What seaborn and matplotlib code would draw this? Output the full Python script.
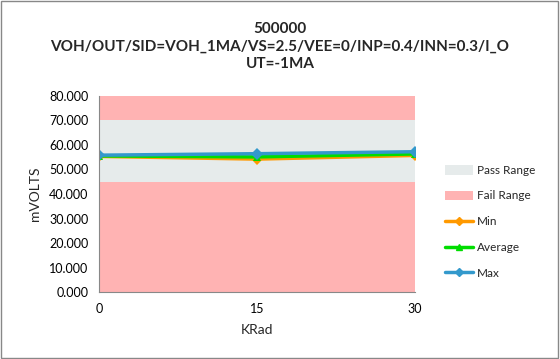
import matplotlib
matplotlib.use("Agg")
import matplotlib.pyplot as plt
from matplotlib.patches import Patch, Rectangle
from matplotlib.lines import Line2D
import seaborn as sns
import pandas as pd

sns.set_style("white")
plt.rcParams['font.family'] = ['Lato', 'DejaVu Sans']

krad = [0, 15, 30]
min_vals = [55.3, 54.2, 55.7]
avg_vals = [55.5, 55.1, 56.3]
max_vals = [55.8, 56.4, 57.2]
pass_range = (45.0, 70.0)
fail_range = (0.0, 80.0)
yticks = [0, 10, 20, 30, 40, 50, 60, 70, 80]

title = "500000\nVOH/OUT/SID=VOH_1MA/VS=2.5/VEE=0/INP=0.4/INN=0.3/I_O\nUT=-1MA"

df = pd.DataFrame({
    "KRad": krad * 3,
    "value": min_vals + avg_vals + max_vals,
    "series": ["Min"] * 3 + ["Average"] * 3 + ["Max"] * 3,
})

colors = {"Min": "#FF9900", "Average": "#00DD00", "Max": "#3399CC"}
markers = {"Min": "D", "Average": "^", "Max": "D"}

fig = plt.figure(figsize=(5.6, 3.59), dpi=100)
ax = fig.add_axes([99 / 560, 1 - 292.3 / 359, (415 - 99) / 560, (292.3 - 95.7) / 359])

# limit bands
ax.axhspan(fail_range[0], fail_range[1], color="#FFB3B3", zorder=0, lw=0)
ax.axhspan(pass_range[0], pass_range[1], color="#E6EBEB", zorder=1, lw=0)

sns.lineplot(data=df, x="KRad", y="value", hue="series", style="series",
             palette=colors, markers=markers, dashes=False, linewidth=2.5,
             markersize=6, markeredgewidth=0, ax=ax, legend=False, zorder=3)

ax.set_xlim(0, 30)
ax.set_ylim(0, 80)
ax.set_xticks(krad)
ax.set_yticks(yticks)
ax.set_yticklabels([f"{v:.3f}" for v in yticks])
ax.tick_params(axis="both", labelsize=9, length=4, direction="out",
               color="#888888", width=0.8, labelcolor="black")
for side in ["top", "right"]:
    ax.spines[side].set_visible(False)
for side in ["left", "bottom"]:
    ax.spines[side].set_color("#888888")
    ax.spines[side].set_linewidth(0.8)
    ax.spines[side].set_zorder(5)

ax.set_xlabel("KRad", fontsize=10, labelpad=7)
ax.set_ylabel("mVOLTS", fontsize=10, labelpad=6)

fig.text(0.5, 1 - 46.5 / 359, title, ha="center", va="center",
         fontsize=11, fontweight="bold", linespacing=1.3)

handles = [
    Patch(facecolor="#E6EBEB", edgecolor="none", label="Pass Range"),
    Patch(facecolor="#FFB3B3", edgecolor="none", label="Fail Range"),
    Line2D([], [], color=colors["Min"], marker="D", markersize=4, lw=2.5, label="Min"),
    Line2D([], [], color=colors["Average"], marker="^", markersize=5, lw=2.5, label="Average"),
    Line2D([], [], color=colors["Max"], marker="D", markersize=4, lw=2.5, label="Max"),
]
fig.legend(handles=handles, loc="upper left", bbox_to_anchor=(440 / 560, 1 - 160 / 359),
           frameon=False, fontsize=8.5, labelspacing=1.25, handlelength=2.4,
           handleheight=0.9, handletextpad=0.3, borderaxespad=0)

fig.patches.append(Rectangle((0.002, 0.003), 0.994, 0.994, transform=fig.transFigure,
                             fill=False, edgecolor="#888888", linewidth=1))

fig.savefig("out.png", dpi=100)
